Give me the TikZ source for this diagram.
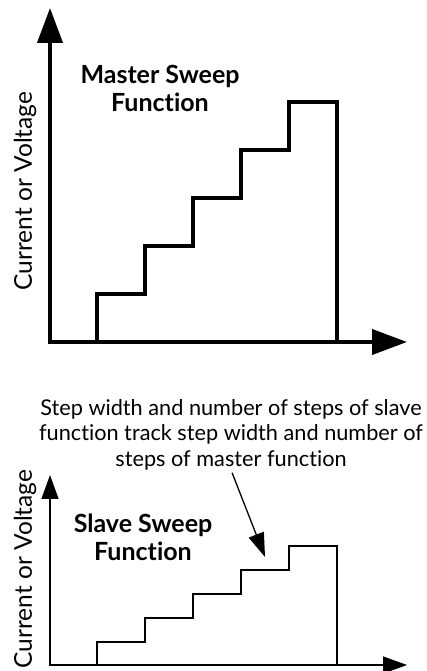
\documentclass[tikz,border=0pt]{standalone}
\usepackage{fontspec}
\setmainfont{Lato}[Ligatures=NoCommon,RawFeature={-liga}]
\usepackage{tikz}
\usetikzlibrary{arrows.meta,positioning}
\tikzset{
  axbig/.style={line width=4pt,-{Triangle[length=35pt,width=25pt]}},
  axsmall/.style={line width=1.4pt,-{Triangle[length=24pt,width=17pt]}},
  pointer/.style={line width=1.3pt,-{Triangle[length=24pt,width=16pt]}},
  ttl/.style={font=\fontsize{25}{28}\selectfont\bfseries,align=center,inner sep=0pt},
  ylab/.style={font=\fontsize{24.5}{26}\selectfont,rotate=90,inner sep=0pt},
  note/.style={font=\fontsize{21.7}{25.5}\selectfont,align=center,inner sep=0pt}
}
% base y, top of first riser, step height, line width
\newcommand{\stairs}[4]{%
  \draw[line width=#4,line join=miter] (97,#1)
    \foreach \i in {0,...,4}{ |- ({145+48*\i},{#2+#3*\i}) } -- (337,#1);
}

\begin{document}
\begin{tikzpicture}[x=1pt,y=1pt]
\useasboundingbox (0,0) rectangle (427,671);
% master sweep
\coordinate (o1) at (50,329);
\coordinate (y1) at (50,663);
\coordinate (x1) at (407,329);
\draw[axbig] ([xshift=-2pt]o1) -- (x1);
\draw[axbig] ([yshift=-2pt]o1) -- (y1);
\stairs{329}{377}{48}{4pt}
\node[ttl] (mttl) at (160,583) {Master Sweep\\Function};
\node[ylab] (ylab1) at (25,480) {Current or Voltage};
% slave sweep
\coordinate (o2) at (50,6);
\coordinate (y2) at (50,196);
\coordinate (x2) at (407,6);
\draw[axsmall] ([xshift=-0.7pt]o2) -- (x2);
\draw[axsmall] ([yshift=-0.7pt]o2) -- (y2);
\stairs{6}{29}{24}{1.3pt}
\node[ttl] (sttl) at (143,134) {Slave Sweep\\Function};
\node[ylab] (ylab2) at (25,102) {Current or Voltage};
% note and pointer
\node[note,anchor=south] (note) at (231,201) {Step width and number of steps of slave\\function track step width and number of\\steps of master function};
\coordinate (hit) at (265,114);
\draw[pointer,shorten <=3pt] (note.south) -- (hit);
\end{tikzpicture}
\end{document}
